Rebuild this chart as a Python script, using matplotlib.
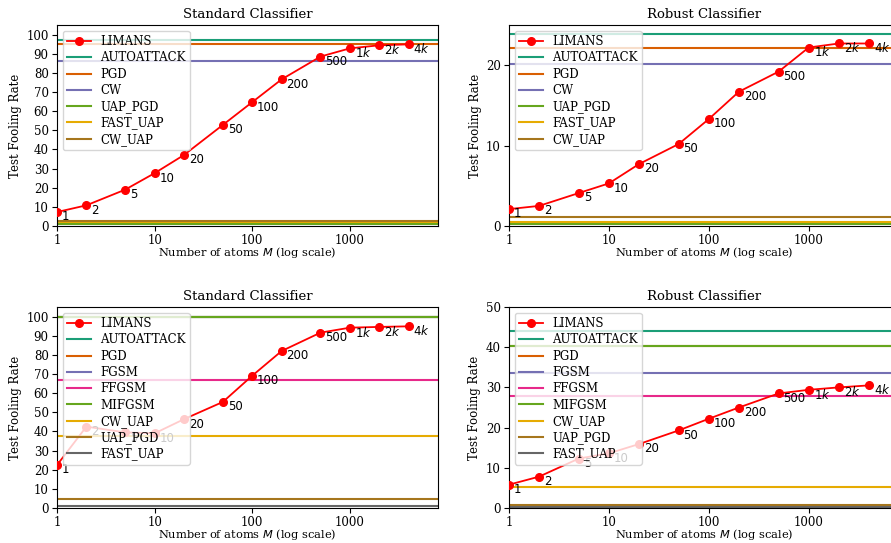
import matplotlib
matplotlib.use("Agg")
import matplotlib.pyplot as plt
from matplotlib.ticker import FixedLocator, NullLocator, FixedFormatter

plt.rcParams['font.family'] = ['DejaVu Serif']
plt.rcParams['mathtext.fontset'] = 'dejavusans'

atoms = [1, 2, 5, 10, 20, 50, 100, 200, 500, 1000, 2000, 4000]
atom_labels = ["1", "2", "5", "10", "20", "50", "100", "200", "500", "1$k$", "2$k$", "4$k$"]

# Panel 1: Standard classifier (top)
limans_std_top = [7.3, 10.8, 19.0, 27.6, 37.1, 52.8, 64.7, 76.6, 88.5, 92.8, 94.4, 94.9]
attacks_top = ["AUTOATTACK", "PGD", "CW", "UAP_PGD", "FAST_UAP", "CW_UAP"]
base_std_top = [97.0, 95.3, 86.2, 1.0, 2.3, 2.8]

# Panel 2: Robust classifier (top)
limans_rob_top = [2.1, 2.5, 4.1, 5.3, 7.7, 10.2, 13.3, 16.7, 19.2, 22.2, 22.7, 22.7]
base_rob_top = [23.9, 22.2, 20.2, 0.25, 0.53, 1.15]

# Panel 3: Standard classifier (bottom)
limans_std_bot = [22.4, 42.5, 39.5, 39.0, 46.4, 55.4, 69.1, 82.0, 91.6, 94.2, 94.6, 94.9]
attacks_bot = ["AUTOATTACK", "PGD", "FGSM", "FFGSM", "MIFGSM", "CW_UAP", "UAP_PGD", "FAST_UAP"]
base_std_bot = [100.0, 100.0, 100.0, 67.0, 100.0, 37.6, 4.7, 0.9]

# Panel 4: Robust classifier (bottom)
limans_rob_bot = [5.8, 7.8, 12.3, 13.6, 15.9, 19.3, 22.2, 25.0, 28.5, 29.4, 30.0, 30.5]
base_rob_bot = [44.0, 40.2, 33.7, 27.9, 40.4, 5.2, 0.65, 0.3]

colors_top = ["#1b9e77", "#d95f02", "#7570b3", "#66a61e", "#e6ab02", "#a6761d"]
colors_bot = ["#1b9e77", "#d95f02", "#7570b3", "#e7298a", "#66a61e", "#e6ab02", "#a6761d", "#666666"]

fig = plt.figure(figsize=(8.91, 5.43), dpi=100)

W = 381 / 891
H = 201 / 543
positions = [
    (57 / 891, 1 - 226 / 543),
    (509 / 891, 1 - 226 / 543),
    (57 / 891, 1 - 508 / 543),
    (509 / 891, 1 - 508 / 543),
]

panels = [
    ("Standard Classifier", limans_std_top, attacks_top, base_std_top, colors_top, 105, list(range(0, 101, 10))),
    ("Robust Classifier", limans_rob_top, attacks_top, base_rob_top, colors_top, 25, [0, 10, 20]),
    ("Standard Classifier", limans_std_bot, attacks_bot, base_std_bot, colors_bot, 105, list(range(0, 101, 10))),
    ("Robust Classifier", limans_rob_bot, attacks_bot, base_rob_bot, colors_bot, 50, list(range(0, 51, 10))),
]

fs = 8.5
for (pos, (title, lim, names, vals, cols, ymax, yt)) in zip(positions, panels):
    w = W if pos[0] < 0.5 else W + 0.01
    ax = fig.add_axes([pos[0], pos[1], w, H])
    ax.plot(atoms, lim, color="red", marker="o", markersize=5.5, lw=1.3, label="LIMANS", zorder=3)
    for n, v, c in zip(names, vals, cols):
        ax.axhline(v, color=c, lw=1.5, label=n)
    for x, y, t in zip(atoms, lim, atom_labels):
        ax.annotate(t, (x, y), xytext=(3.5, -3.5), textcoords="offset points",
                    ha="left", va="center", fontsize=fs, family="DejaVu Sans")
    ax.set_xscale("log")
    ax.set_xlim(1, 8000)
    ax.set_ylim(0, ymax)
    ax.xaxis.set_major_locator(FixedLocator([1, 10, 100, 1000]))
    ax.xaxis.set_major_formatter(FixedFormatter(["1", "10", "100", "1000"]))
    ax.xaxis.set_minor_locator(NullLocator())
    ax.set_yticks(yt)
    ax.tick_params(labelsize=fs, pad=2.5)
    ax.tick_params(axis="x", pad=2)
    ax.set_title(title, fontsize=9.5, pad=5)
    ax.set_xlabel("Number of atoms $M$ (log scale)", fontsize=8.2, labelpad=-1)
    ax.set_ylabel("Test Fooling Rate", fontsize=fs, labelpad=3)
    ax.legend(loc="upper left", fontsize=fs, labelspacing=0.28, borderpad=0.35,
              handlelength=2.0, handletextpad=0.8)

fig.savefig("out.png", dpi=100)
